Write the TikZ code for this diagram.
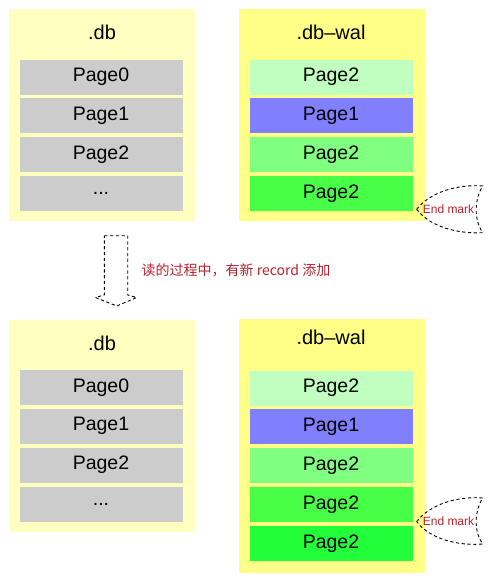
\documentclass[tikz,border=0pt]{standalone}
\usepackage{fontspec}
\setmainfont{Liberation Sans}
\newfontfamily\cjk{Noto Sans CJK SC}
\definecolor{dbbg}{HTML}{FFFFC0}
\definecolor{walbg}{HTML}{FFFF88}
\definecolor{rowgray}{HTML}{CCCCCC}
\definecolor{wA}{HTML}{C0FFC0}
\definecolor{wB}{HTML}{8080FF}
\definecolor{wC}{HTML}{80FF80}
\definecolor{wD}{HTML}{48FF48}
\definecolor{wE}{HTML}{22FF3A}
\definecolor{markred}{HTML}{B8202E}
\begin{document}
\begin{tikzpicture}[x=1pt,y=-1pt,
  box/.style={rectangle, inner sep=0pt, minimum width=186pt, draw=none},
  row/.style={rectangle, inner sep=0pt, minimum width=163pt, minimum height=35pt, font=\fontsize{19.5}{21}\selectfont},
  ttl/.style={inner sep=0pt, font=\fontsize{20}{22}\selectfont},
  marktext/.style={inner sep=0pt, text=markred, font=\fontsize{12}{13}\selectfont},
  dashline/.style={draw=black, line width=0.9pt, dash pattern=on 3.2pt off 2.6pt},
]
\useasboundingbox (0,0) rectangle (500,584);
% ---------- top
\node[box, fill=dbbg, minimum height=212pt] (dbT) at (102,115) {};
\node[box, fill=walbg, minimum height=212pt] (walT) at (332,115) {};
\node[ttl] (dbTt) at (102,32) {.db};
\node[ttl] (walTt) at (331,32) {.db–wal};
\node[row, fill=rowgray] (a0) at (101,77) {Page0};
\node[row, fill=rowgray] (a1) at (101,115.5) {Page1};
\node[row, fill=rowgray] (a2) at (101,154.5) {Page2};
\node[row, fill=rowgray] (a3) at (101,193.5) {...};
\node[row, fill=wA] (b0) at (331,77) {Page2};
\node[row, fill=wB] (b1) at (331,115.5) {Page1};
\node[row, fill=wC] (b2) at (331,154.5) {Page2};
\node[row, fill=wD] (b3) at (331,193.5) {Page2};
% end mark top
\node[marktext] (m1) at (448.5,209.5) {End mark};
\draw[dashline] (416.7,209.3) .. controls (430,192) and (458,184) .. (482.7,186)
  .. controls (474,200) and (474,220) .. (482.7,232.7)
  .. controls (458,234) and (430,227) .. cycle;
% ---------- arrow
\draw[dashline] (104.3,235.7) -- (127.7,235.7) -- (127.7,295) -- (136.7,297.5) -- (116.7,306) -- (95.5,297.5) -- (104.3,295) -- cycle;
\node[inner sep=0pt, text=markred, font=\cjk\fontsize{14}{16}\selectfont, anchor=west] (lbl) at (141.5,270) {读的过程中，有新 record 添加};
% ---------- bottom
\node[box, fill=dbbg, minimum height=212pt] (dbB) at (102,426) {};
\node[box, fill=walbg, minimum height=254pt] (walB) at (332,446) {};
\node[ttl] (dbBt) at (102,343) {.db};
\node[ttl] (walBt) at (331,337) {.db–wal};
\node[row, fill=rowgray] (c0) at (101,387.5) {Page0};
\node[row, fill=rowgray] (c1) at (101,426) {Page1};
\node[row, fill=rowgray] (c2) at (101,465) {Page2};
\node[row, fill=rowgray] (c3) at (101,504) {...};
\node[row, fill=wA] (d0) at (331,388) {Page2};
\node[row, fill=wB] (d1) at (331,426.5) {Page1};
\node[row, fill=wC] (d2) at (331,465.5) {Page2};
\node[row, fill=wD] (d3) at (331,504.5) {Page2};
\node[row, fill=wE] (d4) at (331,543.5) {Page2};
% end mark bottom
\node[marktext] (m2) at (448.5,521) {End mark};
\draw[dashline] (416.7,521.7) .. controls (430,504) and (458,496) .. (482.7,498)
  .. controls (474,512) and (474,532) .. (482.7,544)
  .. controls (458,546) and (430,539) .. cycle;
\end{tikzpicture}
\end{document}
